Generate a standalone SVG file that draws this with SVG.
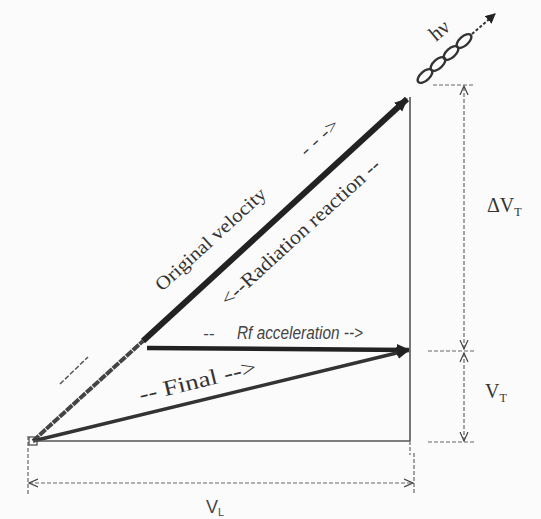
<svg xmlns="http://www.w3.org/2000/svg" width="541" height="519" viewBox="0 0 541 519">
<defs>
<marker id="ah" markerWidth="10" markerHeight="10" refX="9" refY="5" orient="auto" markerUnits="userSpaceOnUse"><path d="M0,0 L10,5 L0,10 Z" fill="#222"/></marker>
<marker id="oh" markerWidth="10" markerHeight="10" refX="9" refY="5" orient="auto" markerUnits="userSpaceOnUse"><path d="M0,1 L9,5 L0,9" fill="none" stroke="#444" stroke-width="1.2"/></marker>
<marker id="ohs" markerWidth="10" markerHeight="10" refX="1" refY="5" orient="auto" markerUnits="userSpaceOnUse"><path d="M10,1 L1,5 L10,9" fill="none" stroke="#444" stroke-width="1.2"/></marker>
<marker id="big" markerWidth="14" markerHeight="14" refX="12" refY="7" orient="auto" markerUnits="userSpaceOnUse"><path d="M0,1 L13,7 L0,13 Z" fill="#222"/></marker>
</defs>
<style>
.serif{font-family:"Liberation Serif","DejaVu Serif",serif;fill:#333}
.sans{font-family:"Liberation Sans","DejaVu Sans",sans-serif;fill:#444}
.dim{stroke:#666;stroke-width:1.2;stroke-dasharray:4 2;fill:none}
.thin{stroke:#555;stroke-width:1.6;fill:none}
</style>
<rect width="541" height="519" fill="#fbfbfb"/>
<g id="connectors">
<line x1="33" y1="441" x2="143" y2="341" stroke="#444" stroke-width="4" stroke-dasharray="8 1"/>
<line x1="143" y1="341" x2="407" y2="99" stroke="#222" stroke-width="6" marker-end="url(#big)"/>
<line x1="147" y1="348" x2="409" y2="350" stroke="#222" stroke-width="4.5" marker-end="url(#big)"/>
<line x1="33" y1="441" x2="409" y2="350" stroke="#333" stroke-width="3.5" marker-end="url(#big)"/>
<line x1="33" y1="441" x2="410" y2="441" class="thin"/>
<line x1="410" y1="97" x2="410" y2="441" class="thin"/>
<line x1="410" y1="441" x2="410" y2="455" class="dim"/>
<line x1="433" y1="85" x2="474" y2="85" class="dim"/>
<line x1="428" y1="351" x2="474" y2="351" class="dim"/>
<line x1="428" y1="442" x2="474" y2="442" class="dim"/>
<line x1="464" y1="349" x2="464" y2="86" class="dim" marker-end="url(#oh)" marker-start="url(#ohs)"/>
<line x1="464" y1="353" x2="464" y2="441" class="dim" marker-end="url(#oh)" marker-start="url(#ohs)"/>
<line x1="28" y1="436" x2="28" y2="494" class="dim"/>
<line x1="414" y1="453" x2="414" y2="494" class="dim"/>
<line x1="29" y1="483" x2="413" y2="483" class="dim" marker-end="url(#oh)" marker-start="url(#ohs)"/>
<line x1="60" y1="384" x2="88" y2="357" stroke="#555" stroke-width="1.5" stroke-dasharray="5 2"/>
<rect x="29" y="437" width="8" height="8" fill="none" stroke="#444" stroke-width="1.2"/>
</g>
<g id="photon">
<g fill="none" stroke="#333" stroke-width="2.4">
<ellipse cx="425" cy="76" rx="9" ry="4.5" transform="rotate(-42 425 76)"/>
<ellipse cx="438" cy="64" rx="9" ry="4.5" transform="rotate(-42 438 64)"/>
<ellipse cx="451" cy="53" rx="9" ry="4.5" transform="rotate(-42 451 53)"/>
<ellipse cx="464" cy="41" rx="9" ry="4.5" transform="rotate(-42 464 41)"/>
</g>
<line x1="472" y1="34" x2="495" y2="14" stroke="#333" stroke-width="2" stroke-dasharray="3 2" marker-end="url(#ah)"/>
<text class="serif" font-size="21" transform="translate(436,42) rotate(-40)">hν</text>
</g>
<g id="labels">
<text class="serif" font-size="19" textLength="143" lengthAdjust="spacingAndGlyphs" transform="translate(162,292) rotate(-42.4)">Original velocity</text>
<text class="serif" font-size="17" textLength="46" lengthAdjust="spacingAndGlyphs" transform="translate(306,157) rotate(-42.4)">- - -&gt;</text>
<text class="serif" font-size="20" textLength="208" lengthAdjust="spacingAndGlyphs" transform="translate(228,307) rotate(-42.4)">&lt;--Radiation reaction  --</text>
<text class="sans" font-size="17" font-style="italic" x="203" y="339">--</text>
<text class="sans" font-size="18" font-style="italic" x="237" y="339" textLength="126" lengthAdjust="spacingAndGlyphs">Rf acceleration --&gt;</text>
<text class="serif" font-size="22" textLength="120" lengthAdjust="spacingAndGlyphs" transform="translate(141,402) rotate(-13.6)">--  Final  --&gt;</text>
<text class="serif" font-size="20" x="487" y="212">ΔV<tspan font-size="12" dy="4">T</tspan></text>
<text class="serif" font-size="20" x="485" y="398">V<tspan font-size="12" dy="4">T</tspan></text>
<text class="sans" font-size="18" x="206" y="513">V<tspan font-size="11" dy="3">L</tspan></text>
</g>
</svg>
